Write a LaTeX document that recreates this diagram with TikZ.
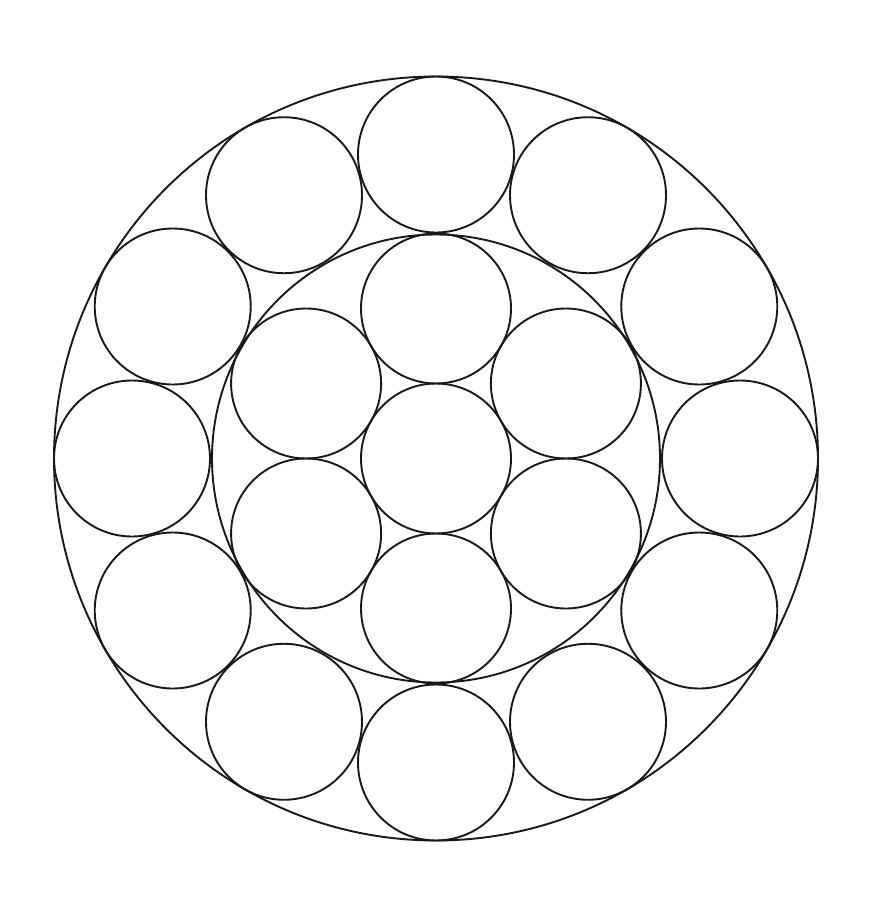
\documentclass[tikz,border=0pt]{standalone}
\usetikzlibrary{calc}
\begin{document}
\begin{tikzpicture}[x=1pt,y=-1pt,
  wire/.style={circle,draw=black!90,line width=1.9pt,inner sep=0pt}]
\useasboundingbox (0,0) rectangle (878,907);
\coordinate (c) at (436,458.5);
\node[wire,minimum size=764pt] (outer) at (c) {};
\node[wire,minimum size=448pt] (inner) at (c) {};
\node[wire,minimum size=150pt] (w0) at (c) {};
\foreach \a in {30,90,...,330}
  \node[wire,minimum size=150pt] (a\a) at ($(c)+(\a:150)$) {};
\foreach \a in {0,30,...,330}
  \node[wire,minimum size=156pt] (b\a) at ($(c)+(\a:304)$) {};
\end{tikzpicture}
\end{document}
